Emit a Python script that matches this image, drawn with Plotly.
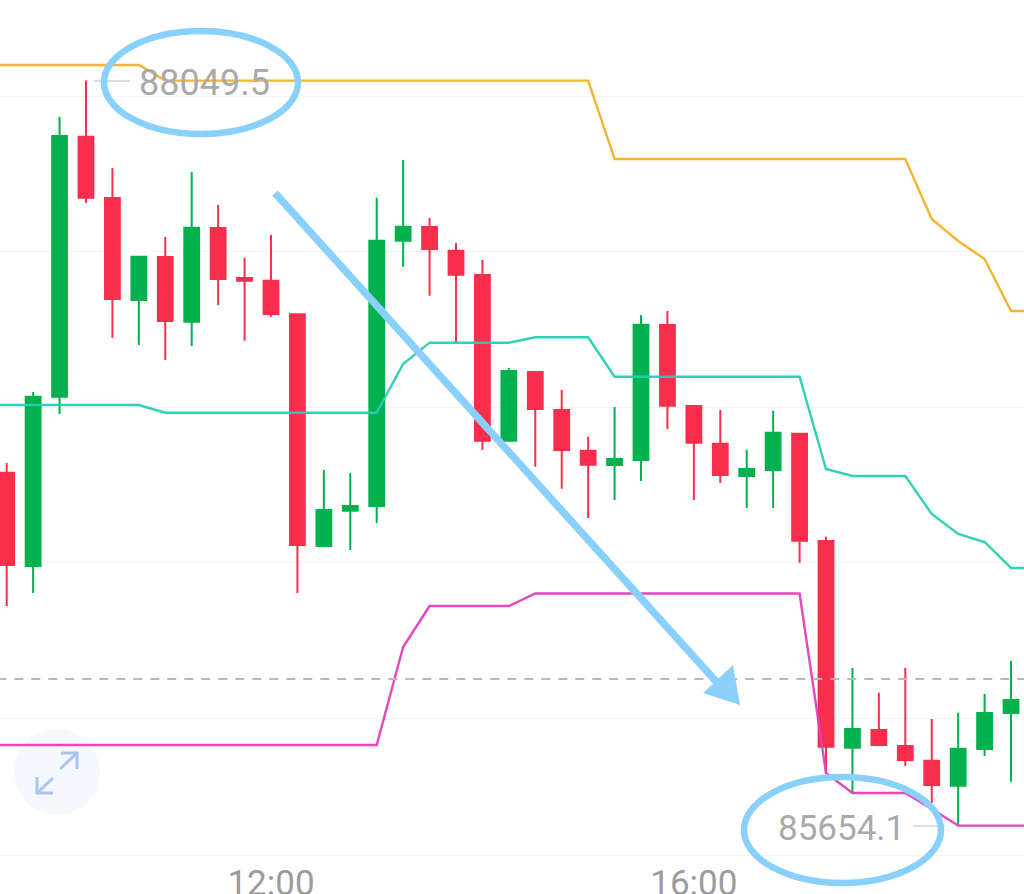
import pandas as pd
import plotly.graph_objects as go

DAY = "2025-03-28"
# 15-minute candles, 09:30 to 19:00
candle_times = pd.date_range(f"{DAY} 09:30", f"{DAY} 19:00", freq="15min")
# channel lines run one bar past each edge of the window
line_times = pd.date_range(f"{DAY} 09:15", f"{DAY} 19:15", freq="15min")

opens = [86788.8, 86488.8, 87033.1, 87869.2, 87672.0, 87344.1, 87482.3, 87274.3, 87575.6, 87414.8,
         87406.1, 87298.1, 86553.1, 86666.6, 86681.7, 87534.8, 87578.8, 87502.6, 87424.5, 86891.7,
         87112.6, 86990.4, 86859.5, 86813.5, 86829.6, 87263.7, 87003.2, 86882.0, 86778.2, 86797.5,
         86914.2, 86569.2, 85904.5, 85961.5, 85910.0, 85862.7, 85782.4, 85900.4, 86016.1]
highs = [86820.0, 87048.3, 87933.5, 88049.5, 87768.5, 87483.3, 87546.7, 87755.7, 87649.5, 87480.1,
         87553.1, 87298.1, 86797.5, 86787.8, 87673.0, 87794.2, 87607.7, 87527.4, 87472.7, 87125.4,
         87112.6, 87054.7, 86904.5, 87000.0, 87295.8, 87308.7, 87003.2, 86990.4, 86861.8, 86988.1,
         86914.2, 86583.0, 86160.8, 86081.4, 86161.8, 85996.8, 86017.1, 86077.2, 86184.3]
lows = [86360.2, 86402.0, 86977.5, 87656.0, 87222.8, 87199.4, 87151.2, 87196.2, 87328.0, 87213.2,
        87290.4, 86402.0, 86549.9, 86540.2, 86627.0, 87451.1, 87357.9, 87206.8, 86861.8, 86890.7,
        86808.1, 86737.3, 86643.1, 86701.0, 86762.1, 86929.3, 86701.0, 86755.7, 86675.3, 86675.3,
        86499.4, 85823.2, 85759.8, 85913.2, 85845.7, 85726.7, 85654.1, 85877.9, 85795.2]
closes = [86492.0, 87033.1, 87871.4, 87673.0, 87347.3, 87483.3, 87276.6, 87576.5, 87411.6, 87406.1,
          87299.1, 86556.3, 86668.8, 86681.7, 87534.8, 87579.8, 87508.1, 87425.4, 86891.7, 87115.8,
          86993.6, 86861.8, 86814.5, 86832.8, 87264.7, 87004.2, 86885.2, 86781.4, 86800.7, 86917.4,
          86570.1, 85907.7, 85964.7, 85913.2, 85865.0, 85784.6, 85901.3, 86016.1, 86057.9]

upper = [88099.7] * 7 + [88049.5] * 17 + [87797.5] * 12 + [87604.5, 87533.8, 87475.9, 87308.7, 87308.7]
middle = ([87006.5] * 7 + [86981.7] * 9 +
          [87138.3] + [87206.8] * 4 + [87224.2] * 3 + [87097.5] * 8 +
          [86800.7] + [86778.2] * 3 + [86656.0, 86591.7, 86566.0, 86482.4, 86482.4])
lower = ([85913.2] * 16 + [86228.3] + [86360.2] * 4 + [86400.4] * 11 +
         [85823.2] + [85758.9] * 3 + [85707.4] + [85654.1] * 4)

last_price = 86125.4
high_label = "88049.5"
low_label = "85654.1"
grid_prices = [86000, 86500, 87000, 87500, 88000]
tick_times = [f"{DAY} 12:00", f"{DAY} 16:00"]
tick_labels = ["12:00", "16:00"]

RED, GREEN = "#f92e4d", "#05b14e"
BLUE = "#89d0fa"
W, H, PLOT_H = 1024, 894, 855


def px(x):
    return x / W


def py(y):
    return 1 - y / PLOT_H


def line(x0, y0, x1, y1, color, width):
    return dict(type="line", xref="paper", yref="paper", x0=px(x0), y0=py(y0), x1=px(x1), y1=py(y1),
                line=dict(color=color, width=width), layer="above")


def ellipse(x0, y0, x1, y1, color, width, fill="rgba(0,0,0,0)", layer="above"):
    return dict(type="circle", xref="paper", yref="paper", x0=px(x0), y0=py(y0), x1=px(x1), y1=py(y1),
                line=dict(color=color, width=width), fillcolor=fill, layer=layer)


def poly(points, color, closed=False, width=2):
    d = "M " + " L ".join(f"{px(a)} {py(b)}" for a, b in points) + (" Z" if closed else "")
    return dict(type="path", xref="paper", yref="paper", path=d, layer="above",
                line=dict(color=color, width=0 if closed else width),
                fillcolor=color if closed else "rgba(0,0,0,0)")


fig = go.Figure()
fig.add_trace(go.Candlestick(
    x=candle_times, open=opens, high=highs, low=lows, close=closes,
    increasing=dict(line=dict(color=GREEN, width=2), fillcolor=GREEN),
    decreasing=dict(line=dict(color=RED, width=2), fillcolor=RED),
    hoverinfo="skip",
))
for values, color in ((upper, "#f5b126"), (middle, "#25cfb2"), (lower, "#e33fbb")):
    fig.add_trace(go.Scatter(x=line_times, y=values, mode="lines",
                             line=dict(color=color, width=2.4), hoverinfo="skip", opacity=0.95))
fig.add_trace(go.Scatter(x=line_times, y=[last_price] * len(line_times), mode="lines",
                         line=dict(color="#b8b8b8", width=2, dash="9px,8px"), hoverinfo="skip"))

icon = "#aac4ee"
shapes = [
    ellipse(14, 729, 100, 815, "rgba(0,0,0,0)", 0, fill="#f5f9fe", layer="below"),
    poly([(60, 769), (77, 753)], icon, width=3), poly([(61, 753), (77, 753), (77, 769)], icon, width=3),
    poly([(37, 793), (53, 778)], icon, width=3), poly([(37, 777), (37, 793), (53, 793)], icon, width=3),
    line(94, 81, 130, 81, "#bdbdbd", 1), line(913, 826, 945, 826, "#bdbdbd", 1),
    ellipse(104, 31, 298, 134, BLUE, 6.5),
    ellipse(744, 777, 941, 883, BLUE, 6.5),
    line(275, 193, 722, 688, BLUE, 7.5),
    poly([(740, 705), (703, 693), (733, 665)], BLUE, closed=True),
]

fig.update_layout(
    width=W, height=H, margin=dict(l=0, r=0, t=0, b=H - PLOT_H),
    paper_bgcolor="white", plot_bgcolor="white", showlegend=False,
    boxgap=0.2, shapes=shapes,
    font=dict(family="Roboto", color="#9b9b9b"),
    xaxis=dict(type="date", range=[f"{DAY} 09:26:12", f"{DAY} 19:07:22"], rangeslider=dict(visible=False),
               showgrid=False, zeroline=False, showline=True, linecolor="#f3f3f3", linewidth=1,
               tickmode="array", tickvals=tick_times, ticktext=tick_labels, ticks="",
               tickfont=dict(size=35, color="#9b9b9b"), automargin=False, ticklabelstandoff=-3),
    yaxis=dict(range=[85559.5, 88308.7], tickmode="array", tickvals=grid_prices, showticklabels=False,
               gridcolor="#f5f5f5", gridwidth=1, zeroline=False, showline=False, ticks=""),
    annotations=[
        dict(text=high_label, xref="paper", yref="paper", x=px(204), y=py(83), showarrow=False,
             font=dict(size=36, color="#aaaaaa"), xanchor="center", yanchor="middle"),
        dict(text=low_label, xref="paper", yref="paper", x=px(841), y=py(828), showarrow=False,
             font=dict(size=35, color="#aaaaaa"), xanchor="center", yanchor="middle"),
    ],
)

fig.write_html("out.html", config=dict(displayModeBar=False),
               post_script="document.body.style.margin='0';document.body.style.overflow='hidden';")
